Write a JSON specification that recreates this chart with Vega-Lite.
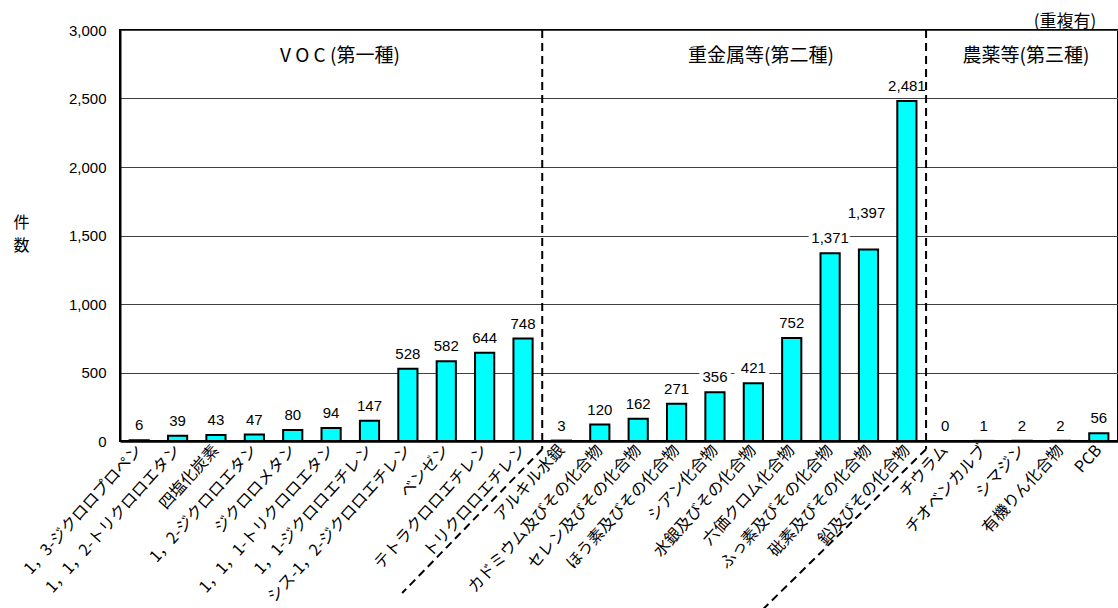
{
  "$schema": "https://vega.github.io/schema/vega-lite/v6.json",
  "width": 998,
  "height": 411,
  "autosize": {"type": "none"},
  "padding": {"left": 120, "top": 30, "right": 0, "bottom": 167},
  "background": "white",
  "config": {
    "view": {"stroke": "black", "strokeWidth": 2},
    "font": "Liberation Sans"
  },
  "datasets": {
    "counts": [
      {"substance": "1，3-ジクロロプロペン", "count": 6},
      {"substance": "1，1，2-トリクロロエタン", "count": 39},
      {"substance": "四塩化炭素", "count": 43},
      {"substance": "1，2-ジクロロエタン", "count": 47},
      {"substance": "ジクロロメタン", "count": 80},
      {"substance": "1，1，1-トリクロロエタン", "count": 94},
      {"substance": "1，1-ジクロロエチレン", "count": 147},
      {"substance": "シス-1，2-ジクロロエチレン", "count": 528},
      {"substance": "ベンゼン", "count": 582},
      {"substance": "テトラクロロエチレン", "count": 644},
      {"substance": "トリクロロエチレン", "count": 748},
      {"substance": "アルキル水銀", "count": 3},
      {"substance": "カドミウム及びその化合物", "count": 120},
      {"substance": "セレン及びその化合物", "count": 162},
      {"substance": "ほう素及びその化合物", "count": 271},
      {"substance": "シアン化合物", "count": 356},
      {"substance": "水銀及びその化合物", "count": 421},
      {"substance": "六価クロム化合物", "count": 752},
      {"substance": "ふっ素及びその化合物", "count": 1371},
      {"substance": "砒素及びその化合物", "count": 1397},
      {"substance": "鉛及びその化合物", "count": 2481},
      {"substance": "チウラム", "count": 0},
      {"substance": "チオベンカルブ", "count": 1},
      {"substance": "シマジン", "count": 2},
      {"substance": "有機りん化合物", "count": 2},
      {"substance": "PCB", "count": 56}
    ],
    "dividers": [
      {"x": 11, "y": 3000, "x2": 11, "y2": -60},
      {"x": 11, "y": -60, "x2": 7.35, "y2": -1110},
      {"x": 21, "y": 3000, "x2": 21, "y2": -60},
      {"x": 21, "y": -60, "x2": 16.65, "y2": -1256}
    ],
    "sections": [
      {"label": "V O C (第一種)", "x": 5.73, "y": 2810},
      {"label": "重金属等(第二種)", "x": 16.7, "y": 2810},
      {"label": "農薬等(第三種)", "x": 23.6, "y": 2810}
    ],
    "note": [
      {"label": "(重複有)", "x": 24.62, "y": 3062}
    ]
  },
  "layer": [
    {
      "data": {"name": "counts"},
      "encoding": {
        "x": {
          "field": "substance",
          "type": "nominal",
          "sort": null,
          "scale": {"paddingInner": 0.5, "paddingOuter": 0.25},
          "axis": {
            "title": null,
            "labelAngle": -48,
            "labelAlign": "right",
            "labelBaseline": "middle",
            "labelFont": "Noto Sans CJK JP",
            "labelFontSize": 16,
            "labelColor": "black",
            "labelPadding": 6,
            "labelLimit": 0,
            "labelOverlap": false,
            "ticks": false,
            "domainColor": "black",
            "domainWidth": 2.5
          }
        },
        "y": {
          "field": "count",
          "type": "quantitative",
          "scale": {"domain": [0, 3000], "nice": false},
          "axis": {
            "values": [0, 500, 1000, 1500, 2000, 2500, 3000],
            "format": ",.0f",
            "grid": true,
            "gridColor": "#404040",
            "gridWidth": 1,
            "ticks": false,
            "domainColor": "black",
            "domainWidth": 2,
            "labelFont": "Liberation Sans",
            "labelFontSize": 15,
            "labelColor": "black",
            "labelPadding": 14,
            "title": ["件", "数"],
            "titleAngle": 0,
            "titleFont": "Noto Sans CJK JP",
            "titleFontSize": 16,
            "titleFontWeight": "normal",
            "titleColor": "black",
            "titleAlign": "center",
            "titleBaseline": "top",
            "titleLineHeight": 23,
            "titleX": -99,
            "titleY": 184
          }
        }
      },
      "layer": [
        {
          "mark": {"type": "bar", "fill": "#00FFFF", "stroke": "black", "strokeWidth": 2}
        },
        {
          "transform": [{"filter": "datum.count !== 1397"}],
          "mark": {"type": "text", "dy": -15, "baseline": "middle", "font": "Liberation Sans", "fontSize": 15, "fill": "white", "stroke": "white", "strokeWidth": 8},
          "encoding": {
            "text": {"field": "count", "type": "quantitative", "format": ",.0f"}
          }
        },
        {
          "transform": [{"filter": "datum.count !== 1397"}],
          "mark": {"type": "text", "dy": -15, "baseline": "middle", "font": "Liberation Sans", "fontSize": 15, "fill": "black"},
          "encoding": {
            "text": {"field": "count", "type": "quantitative", "format": ",.0f"}
          }
        },
        {
          "transform": [{"filter": "datum.count === 1397"}],
          "mark": {"type": "text", "dy": -37, "dx": -2, "baseline": "middle", "font": "Liberation Sans", "fontSize": 15, "fill": "black"},
          "encoding": {
            "text": {"field": "count", "type": "quantitative", "format": ",.0f"}
          }
        }
      ]
    },
    {
      "layer": [
        {
          "data": {"name": "dividers"},
          "mark": {"type": "rule", "stroke": "black", "strokeWidth": 2, "strokeDash": [8, 5], "clip": false},
          "encoding": {
            "x": {"field": "x", "type": "quantitative", "scale": {"domain": [0, 26], "nice": false, "zero": false}, "axis": null},
            "x2": {"field": "x2"},
            "y": {"field": "y", "type": "quantitative", "scale": {"domain": [0, 3000], "nice": false}, "axis": null},
            "y2": {"field": "y2"}
          }
        },
        {
          "data": {"name": "sections"},
          "mark": {"type": "text", "font": "Noto Sans CJK JP", "fontSize": 19, "fill": "black", "baseline": "middle", "align": "center"},
          "encoding": {
            "x": {"field": "x", "type": "quantitative", "scale": {"domain": [0, 26], "nice": false, "zero": false}, "axis": null},
            "y": {"field": "y", "type": "quantitative", "scale": {"domain": [0, 3000], "nice": false}, "axis": null},
            "text": {"field": "label"}
          }
        },
        {
          "data": {"name": "note"},
          "mark": {"type": "text", "font": "Noto Sans CJK JP", "fontSize": 17, "fill": "black", "baseline": "middle", "align": "center", "clip": false},
          "encoding": {
            "x": {"field": "x", "type": "quantitative", "scale": {"domain": [0, 26], "nice": false, "zero": false}, "axis": null},
            "y": {"field": "y", "type": "quantitative", "scale": {"domain": [0, 3000], "nice": false}, "axis": null},
            "text": {"field": "label"}
          }
        }
      ]
    }
  ],
  "resolve": {"scale": {"x": "independent", "y": "independent"}}
}
